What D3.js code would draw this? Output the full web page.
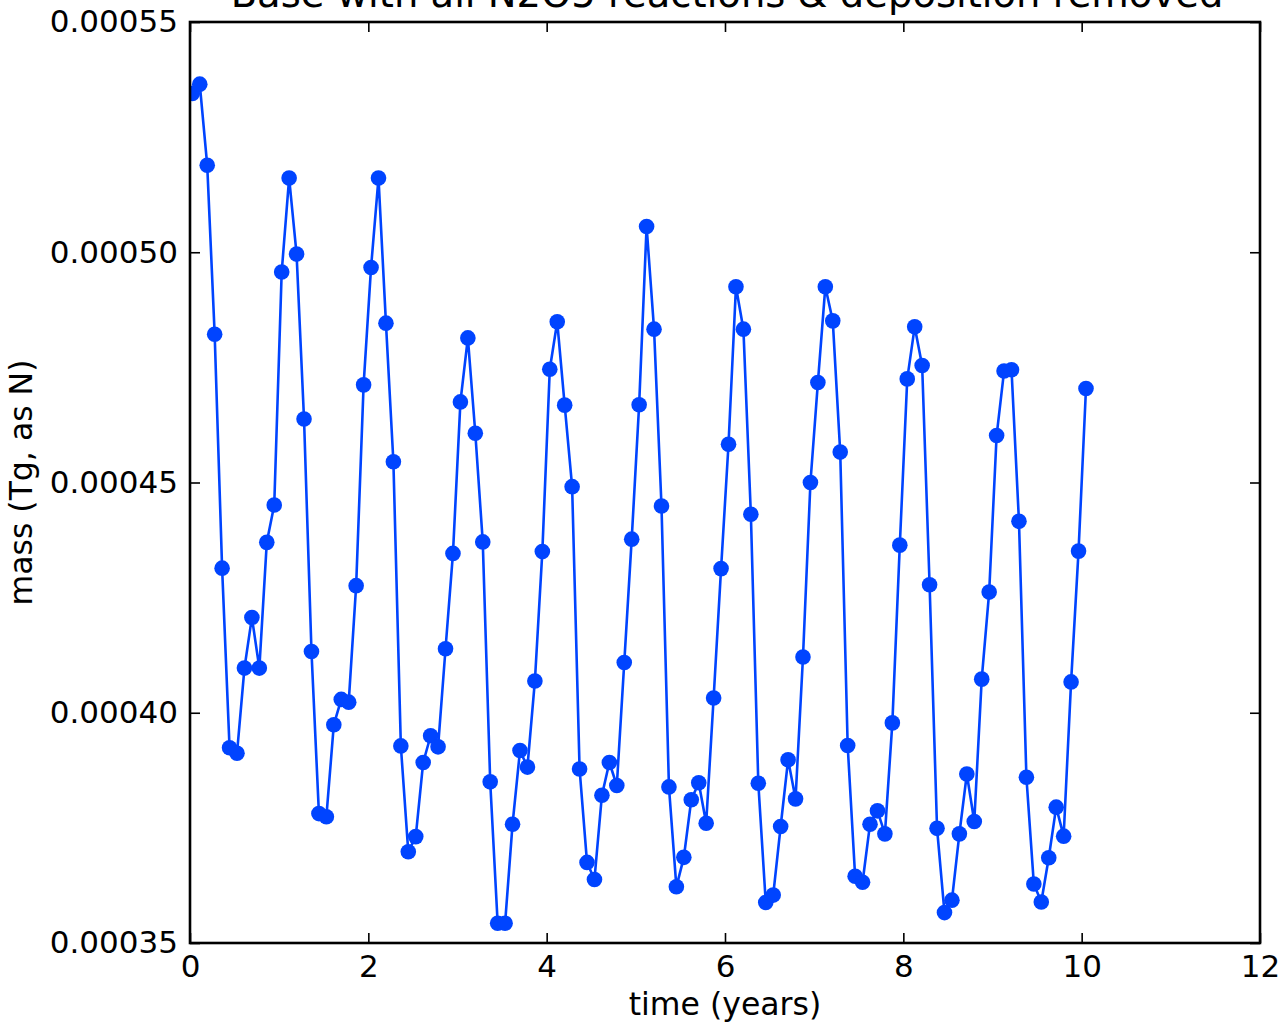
<!DOCTYPE html>
<html>
<head>
<meta charset="utf-8">
<script src="https://cdn.jsdelivr.net/npm/d3@7"></script>
<style>
  html, body { margin: 0; padding: 0; background: #fff; }
  svg { display: block; }
  text { font-family: "DejaVu Sans", sans-serif; fill: #000; }
</style>
</head>
<body>
<svg id="chart" width="1287" height="1027"></svg>
<script>
// ---- data ----
const title = "Base with all N2O5 reactions & deposition removed";
const xLabel = "time (years)";
const yLabel = "mass (Tg, as N)";
const xTicks = [0, 2, 4, 6, 8, 10, 12];
const yTicks = [0.00035, 0.00040, 0.00045, 0.00050, 0.00055];
const xDomain = [0, 12];
const yDomain = [0.00035, 0.00055];
const timeStart = 0.026;   // first sample (years)
const timeStep = 0.08352;  // monthly sampling (years)
// N mass (Tg) per monthly sample
const mass = [
  5.345e-4, 5.365e-4, 5.189e-4, 4.822e-4, 4.314e-4, 3.924e-4, 3.912e-4, 4.097e-4, 4.207e-4, 4.097e-4,
  4.370e-4, 4.451e-4, 4.957e-4, 5.161e-4, 4.996e-4, 4.638e-4, 4.133e-4, 3.781e-4, 3.774e-4, 3.974e-4,
  4.029e-4, 4.023e-4, 4.276e-4, 4.712e-4, 4.967e-4, 5.161e-4, 4.846e-4, 4.545e-4, 3.928e-4, 3.698e-4,
  3.731e-4, 3.892e-4, 3.950e-4, 3.926e-4, 4.139e-4, 4.346e-4, 4.675e-4, 4.814e-4, 4.607e-4, 4.371e-4,
  3.850e-4, 3.543e-4, 3.543e-4, 3.758e-4, 3.918e-4, 3.882e-4, 4.069e-4, 4.350e-4, 4.746e-4, 4.849e-4,
  4.668e-4, 4.491e-4, 3.878e-4, 3.675e-4, 3.638e-4, 3.821e-4, 3.892e-4, 3.842e-4, 4.109e-4, 4.377e-4,
  4.669e-4, 5.056e-4, 4.833e-4, 4.449e-4, 3.839e-4, 3.622e-4, 3.686e-4, 3.811e-4, 3.848e-4, 3.760e-4,
  4.032e-4, 4.313e-4, 4.583e-4, 4.925e-4, 4.833e-4, 4.431e-4, 3.847e-4, 3.588e-4, 3.604e-4, 3.753e-4,
  3.898e-4, 3.813e-4, 4.121e-4, 4.500e-4, 4.717e-4, 4.925e-4, 4.851e-4, 4.566e-4, 3.929e-4, 3.645e-4,
  3.632e-4, 3.758e-4, 3.787e-4, 3.737e-4, 3.978e-4, 4.364e-4, 4.725e-4, 4.838e-4, 4.754e-4, 4.278e-4,
  3.749e-4, 3.566e-4, 3.593e-4, 3.737e-4, 3.867e-4, 3.764e-4, 4.073e-4, 4.262e-4, 4.602e-4, 4.742e-4,
  4.745e-4, 4.416e-4, 3.860e-4, 3.628e-4, 3.589e-4, 3.685e-4, 3.795e-4, 3.732e-4, 4.067e-4, 4.351e-4,
  4.704e-4
];

// ---- layout ----
const W = 1287, H = 1027;
const margin = { left: 190, right: 27, top: 22, bottom: 84 };
const iw = W - margin.left - margin.right;   // 1070
const ih = H - margin.top - margin.bottom;   // 921
const color = "#0044ff";
const fs = 31;

const svg = d3.select("#chart");
const x = d3.scaleLinear().domain(xDomain).range([0, iw]);
const y = d3.scaleLinear().domain(yDomain).range([ih, 0]);

const g = svg.append("g").attr("transform", `translate(${margin.left},${margin.top})`);

g.append("clipPath").attr("id", "clip")
  .append("rect").attr("x", 0).attr("y", 0).attr("width", iw).attr("height", ih);

const data = mass.map((v, i) => ({ t: timeStart + i * timeStep, v }));

const plot = g.append("g").attr("clip-path", "url(#clip)");
plot.append("path")
  .datum(data)
  .attr("fill", "none")
  .attr("stroke", color)
  .attr("stroke-width", 2.6)
  .attr("stroke-linejoin", "round")
  .attr("d", d3.line().x(d => x(d.t)).y(d => y(d.v)));
plot.selectAll("circle").data(data).enter().append("circle")
  .attr("cx", d => x(d.t)).attr("cy", d => y(d.v))
  .attr("r", 7.8).attr("fill", color);

// ---- axes (ticks inward on all sides) ----
const tickLen = 10;
const fmtY = d3.format(".5f");
const xAxisB = d3.axisBottom(x).tickValues(xTicks).tickSizeInner(-tickLen).tickSizeOuter(0).tickPadding(12).tickFormat(d3.format("d"));
const xAxisT = d3.axisTop(x).tickValues(xTicks).tickSizeInner(-tickLen).tickSizeOuter(0).tickFormat("");
const yAxisL = d3.axisLeft(y).tickValues(yTicks).tickSizeInner(-tickLen).tickSizeOuter(0).tickPadding(12).tickFormat(fmtY);
const yAxisR = d3.axisRight(y).tickValues(yTicks).tickSizeInner(-tickLen).tickSizeOuter(0).tickFormat("");

function style(sel) {
  sel.select(".domain").remove();
  sel.selectAll(".tick line").attr("stroke", "#000").attr("stroke-width", 1.6);
  sel.selectAll(".tick text").attr("font-size", fs).attr("font-family", "DejaVu Sans").attr("fill", "#000");
}
g.append("g").attr("transform", `translate(0,${ih})`).call(xAxisB).call(style);
g.append("g").call(xAxisT).call(style);
g.append("g").call(yAxisL).call(style);
g.append("g").attr("transform", `translate(${iw},0)`).call(yAxisR).call(style);

// frame
g.append("rect").attr("x", 0).attr("y", 0).attr("width", iw).attr("height", ih)
  .attr("fill", "none").attr("stroke", "#000").attr("stroke-width", 2.6);

// ---- titles ----
svg.append("text")
  .attr("x", margin.left + iw / 2 + 2).attr("y", 7)
  .attr("text-anchor", "middle").attr("font-size", 38.5)
  .text(title);
svg.append("text")
  .attr("x", margin.left + iw / 2).attr("y", 1015)
  .attr("text-anchor", "middle").attr("font-size", 31.5)
  .text(xLabel);
svg.append("text")
  .attr("transform", `translate(32,${margin.top + ih / 2}) rotate(-90)`)
  .attr("text-anchor", "middle").attr("font-size", 31.5)
  .text(yLabel);
</script>
</body>
</html>
